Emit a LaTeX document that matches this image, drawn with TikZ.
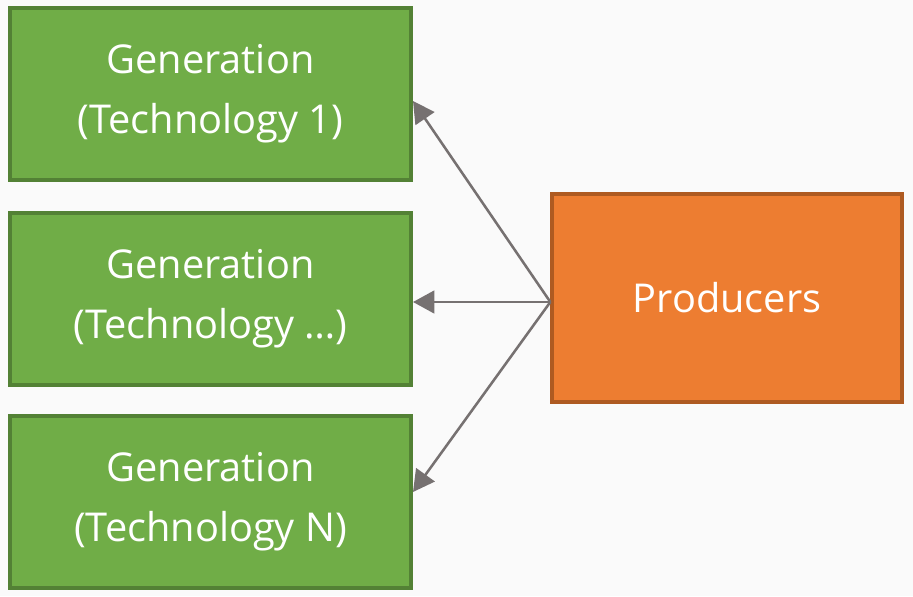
\documentclass[tikz,border=0pt]{standalone}
\usepackage{fontspec}
\setmainfont{Open Sans}
\usetikzlibrary{arrows.meta}
\definecolor{genfill}{HTML}{70AD47}
\definecolor{gendraw}{HTML}{538135}
\definecolor{prodfill}{HTML}{ED7D31}
\definecolor{proddraw}{HTML}{AE5A21}
\definecolor{arrowgray}{HTML}{767171}
\definecolor{bg}{HTML}{FAFAFA}
\begin{document}
\begin{tikzpicture}[x=0.75pt,y=-0.75pt,
	genbox/.style={draw=gendraw,fill=genfill,line width=3pt,minimum width=300.75pt,minimum height=129pt,text=white,align=center,font=\fontsize{29.8}{45}\selectfont},
	prodbox/.style={draw=proddraw,fill=prodfill,line width=2.5pt,minimum width=262.5pt,minimum height=156pt,text=white,font=\fontsize{29.8}{45}\selectfont},
	link/.style={arrowgray,line width=1.9pt,-{Triangle[length=16pt,width=17pt]}}]
	\fill[bg] (0,0) rectangle (913,596);
	\useasboundingbox (0,0) rectangle (913,596);
	\node[genbox] (gen1) at (210.5,94) {Generation\\(Technology 1)};
	\node[genbox] (gen2) at (210.5,299) {Generation\\(Technology …)};
	\node[genbox] (genN) at (210.5,502) {Generation\\(Technology N)};
	\node[prodbox] (prod) at (727,298) {Producers};
	\coordinate (src) at ([yshift=-3pt]prod.west);
	\draw[link] (src) -- ([yshift=-5.25pt]gen1.east);
	\draw[link] (src) -- ([yshift=-2.25pt]gen2.east);
	\draw[link] (src) -- ([yshift=7.5pt]genN.east);
\end{tikzpicture}
\end{document}
